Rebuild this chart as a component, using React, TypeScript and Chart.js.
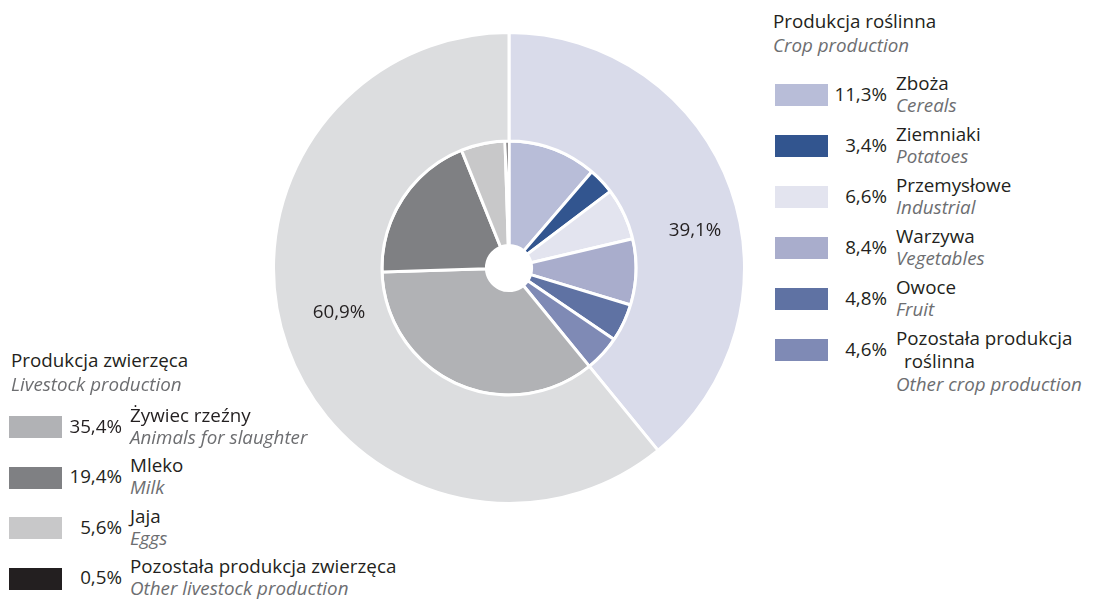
import React, { useEffect, useRef } from "react";
import { Chart, registerables } from "chart.js";

Chart.register(...registerables);

// ---- data ----
const groupLabelsPl = ["Produkcja roślinna", "Produkcja zwierzęca"];
const groupLabelsEn = ["Crop production", "Livestock production"];
const groupValues = [39.1, 60.9];
const groupColors = ["#d9dbea", "#dcdddf"];

const cropLabelsPl = ["Zboża", "Ziemniaki", "Przemysłowe", "Warzywa", "Owoce", "Pozostała produkcja\nroślinna"];
const cropLabelsEn = ["Cereals", "Potatoes", "Industrial", "Vegetables", "Fruit", "Other crop production"];
const cropValues = [11.3, 3.4, 6.6, 8.4, 4.8, 4.6];
const cropColors = ["#b8bdd8", "#32558f", "#e3e4ef", "#a9adcc", "#5f72a3", "#7f8ab5"];

const livestockLabelsPl = ["Żywiec rzeźny", "Mleko", "Jaja", "Pozostała produkcja zwierzęca"];
const livestockLabelsEn = ["Animals for slaughter", "Milk", "Eggs", "Other livestock production"];
const livestockValues = [35.4, 19.4, 5.6, 0.5];
const livestockColors = ["#b1b2b5", "#7f8083", "#c8c8c9", "#231f20"];

const FONT = '"Open Sans", "Noto Sans", sans-serif';
const FS = 18.8;
const DARK = "#231f20";
const GREY = "#6d6e71";

const fmt = (v: number) => v.toFixed(1).replace(".", ",") + "%";

function LegendBlock(props: {
  left: number;
  titleLeft: number;
  top: number;
  titlePl: string;
  titleEn: string;
  rowsTop: number;
  rowStep: number;
  pctRight: number;
  nameLeft: number;
  labelsPl: string[];
  labelsEn: string[];
  values: number[];
  colors: string[];
}) {
  const p = props;
  const base = (b: number) => b - 18.5; // top of a 22px line with given baseline
  const items: any[] = [];
  p.labelsPl.forEach((lab, i) => {
    const S = p.rowsTop + i * p.rowStep;
    const lines = lab.split("\n");
    items.push(
      <div key={"sw" + i} style={{ position: "absolute", left: p.left, top: S, width: 53, height: 22, background: p.colors[i] }} />
    );
    items.push(
      <div key={"pc" + i} style={{ position: "absolute", left: p.pctRight - 80, width: 80, top: base(S + 17), lineHeight: "22px", fontSize: FS, textAlign: "right", color: DARK, whiteSpace: "nowrap" }}>
        {fmt(p.values[i])}
      </div>
    );
    lines.forEach((ln, j) => {
      items.push(
        <div key={"nm" + i + "_" + j} style={{ position: "absolute", left: p.nameLeft + (j > 0 ? 8 : 0), top: base(S + 6 + j * 23), lineHeight: "22px", fontSize: FS, color: DARK, whiteSpace: "nowrap" }}>
          {ln}
        </div>
      );
    });
    items.push(
      <div key={"en" + i} style={{ position: "absolute", left: p.nameLeft, top: base(S + 28 + (lines.length - 1) * 24), lineHeight: "22px", fontSize: FS, fontStyle: "italic", color: GREY, whiteSpace: "nowrap" }}>
        {p.labelsEn[i]}
      </div>
    );
  });
  return (
    <>
      <div style={{ position: "absolute", left: p.titleLeft, top: base(p.top), lineHeight: "22px", fontSize: FS, color: DARK, whiteSpace: "nowrap" }}>{p.titlePl}</div>
      <div style={{ position: "absolute", left: p.titleLeft, top: base(p.top + 24), lineHeight: "22px", fontSize: FS, fontStyle: "italic", color: GREY, whiteSpace: "nowrap" }}>{p.titleEn}</div>
      {items}
    </>
  );
}

export default function App() {
  const ref = useRef<HTMLCanvasElement>(null);

  useEffect(() => {
    document.body.style.margin = "0";
    const ctx = ref.current!.getContext("2d")!;
    const chart = new Chart(ctx, {
      type: "doughnut",
      data: {
        labels: [...cropLabelsPl, ...livestockLabelsPl],
        datasets: [
          {
            data: groupValues,
            backgroundColor: groupColors,
            borderColor: "#ffffff",
            borderWidth: 3,
            weight: 108,
          } as any,
          {
            data: [...cropValues, ...livestockValues],
            backgroundColor: [...cropColors, ...livestockColors],
            borderColor: "#ffffff",
            borderWidth: 3,
            weight: 104,
          } as any,
        ],
      },
      options: {
        responsive: false,
        animation: false,
        cutout: "9.6%",
        layout: { padding: 0 },
        plugins: { legend: { display: false }, tooltip: { enabled: false } },
        events: [],
      },
    });
    return () => chart.destroy();
  }, []);

  return (
    <div style={{ position: "relative", width: 1093, height: 599, background: "#fff", fontFamily: FONT, overflow: "hidden" }}>
      <canvas ref={ref} width={474} height={474} style={{ position: "absolute", left: 272, top: 31, width: 474, height: 474 }} />
      <div style={{ position: "absolute", left: 645, width: 100, top: 236 - 18.5, lineHeight: "22px", fontSize: FS, textAlign: "center", color: DARK }}>{fmt(groupValues[0])}</div>
      <div style={{ position: "absolute", left: 289, width: 100, top: 318 - 18.5, lineHeight: "22px", fontSize: FS, textAlign: "center", color: DARK }}>{fmt(groupValues[1])}</div>
      <LegendBlock
        left={775}
        titleLeft={773}
        top={28}
        titlePl={groupLabelsPl[0]}
        titleEn={groupLabelsEn[0]}
        rowsTop={84}
        rowStep={51}
        pctRight={887}
        nameLeft={896}
        labelsPl={cropLabelsPl}
        labelsEn={cropLabelsEn}
        values={cropValues}
        colors={cropColors}
      />
      <LegendBlock
        left={9}
        titleLeft={11}
        top={367}
        titlePl={groupLabelsPl[1]}
        titleEn={groupLabelsEn[1]}
        rowsTop={416}
        rowStep={50.5}
        pctRight={122}
        nameLeft={130}
        labelsPl={livestockLabelsPl}
        labelsEn={livestockLabelsEn}
        values={livestockValues}
        colors={livestockColors}
      />
    </div>
  );
}
